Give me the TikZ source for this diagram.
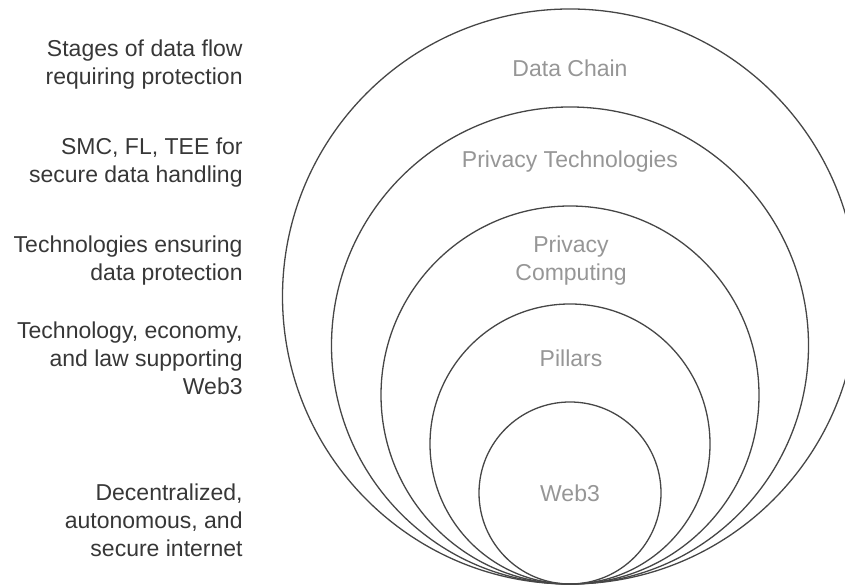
\documentclass[tikz,border=0pt]{standalone}
\usepackage{fontspec}
\setmainfont{Liberation Sans}
\usepackage{tikz}
\definecolor{grisTrait}{RGB}{70,70,70}
\definecolor{grisTexte}{RGB}{55,55,55}
\definecolor{grisClair}{RGB}{150,150,150}

\begin{document}
\begin{tikzpicture}[x=0.5pt, y=0.5pt, font=\fontsize{11.5}{14}\selectfont,
  anneau/.style={draw=grisTrait, line width=0.65pt},
  titre/.style={text=grisClair, align=center, inner sep=0pt},
  legende/.style={text=grisTexte, align=right, anchor=east, inner sep=0pt}]

\useasboundingbox (0,0) rectangle (845,587);
\clip (0,0) rectangle (845,587);

% cercles emboites, tangents en bas
\draw[anneau] (570,290.5) circle [radius=287.5];
\draw[anneau] (570,241.5) circle [radius=238.5];
\draw[anneau] (570,192) circle [radius=189];
\draw[anneau] (570,143) circle [radius=140];
\draw[anneau] (570,94) circle [radius=91];

% titres des cercles
\node[titre] (chaine) at (570,519) {Data Chain};
\node[titre] (techno) at (570,425) {Privacy Technologies};
\node[titre] (calcul) at (571,326) {Privacy\\Computing};
\node[titre] (piliers) at (571,229) {Pillars};
\node[titre] (webtrois) at (570,94) {Web3};

% legendes a gauche
\node[legende] (legChaine) at (243,522) {Stages of data flow\\requiring protection};
\node[legende] (legTechno) at (243,424.5) {SMC, FL, TEE for\\secure data handling};
\node[legende] (legCalcul) at (243,326) {Technologies ensuring\\data protection};
\node[legende] (legPiliers) at (243,229) {Technology, economy,\\and law supporting\\Web3};
\node[legende] (legWeb) at (243,67) {Decentralized,\\autonomous, and\\secure internet};

\end{tikzpicture}
\end{document}
